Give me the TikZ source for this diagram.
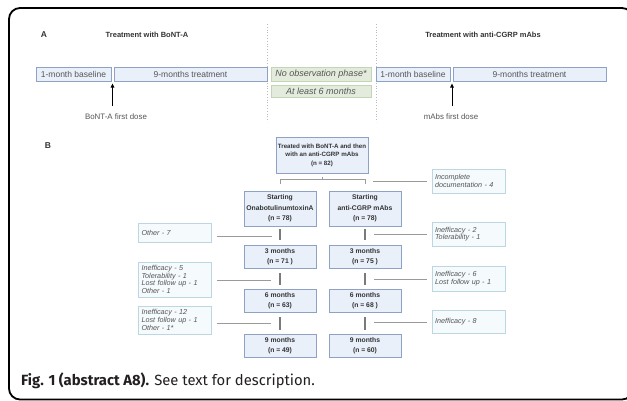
\documentclass[tikz,border=0pt]{standalone}
\usepackage{fontspec}
\setmainfont{Liberation Sans}
\newfontfamily\capfont{Fira Sans}
\usetikzlibrary{arrows.meta}
\definecolor{boxfill}{HTML}{E9F0FA}
\definecolor{boxdraw}{HTML}{8EA3C4}
\definecolor{sidefill}{HTML}{F5FAFD}
\definecolor{sidedraw}{HTML}{BCD6E2}
\definecolor{grfill}{HTML}{E3ECDC}
\definecolor{grdraw}{HTML}{C3D5B5}
\definecolor{txt}{HTML}{333333}
\definecolor{ltxt}{HTML}{555555}
\definecolor{conn}{HTML}{9A9A9A}
\definecolor{vconn}{HTML}{7A7A7A}
\definecolor{dotc}{HTML}{BBBBBB}
\definecolor{captxt}{HTML}{231F20}
\begin{document}
\begin{tikzpicture}[x=1pt,y=-1pt,
  abox/.style={draw=boxdraw, fill=boxfill, line width=0.8pt, inner sep=0pt, text=ltxt, font=\fontsize{8.5}{10}\selectfont},
  gbox/.style={draw=grdraw, fill=grfill, line width=0.8pt, inner sep=0pt, text=ltxt, font=\fontsize{9}{10}\selectfont\itshape},
  mbox/.style={draw=boxdraw, fill=boxfill, line width=0.9pt, inner sep=0pt, text=txt, align=center, font=\bfseries\fontsize{6.8}{10.5}\selectfont, minimum width=72, minimum height=23},
  sbox/.style={draw=sidedraw, fill=sidefill, line width=0.8pt, inner sep=0pt, inner xsep=3pt, text=ltxt, align=left, text width=67, font=\fontsize{7.2}{6.6}\selectfont\itshape},
  ttl/.style={text=txt, font=\bfseries\fontsize{7.5}{9}\selectfont},
  lab/.style={text=ltxt, font=\fontsize{7.9}{9}\selectfont},
  conline/.style={draw=conn, line width=0.8pt},
  vline/.style={draw=vconn, line width=1.8pt},
  dotline/.style={draw=dotc, line width=0.8pt, dotted},
  arr/.style={draw=black, line width=0.9pt, -{Triangle[length=4pt,width=3.6pt]}}
]
\useasboundingbox (0,0) rectangle (627,400);
% frame
\draw[line width=1.8pt, rounded corners=11pt] (9,8) rectangle (633,399.5);

% ---------- Section A ----------
\node[font=\bfseries\fontsize{8.5}{10}\selectfont, text=txt] (lA) at (44,35) {A};
\node[ttl] (t1) at (147,35) {Treatment with BoNT-A};
\node[ttl] (t2) at (483,35) {Treatment with anti-CGRP mAbs};
\coordinate (d1a) at (267.5,24); \coordinate (d1b) at (267.5,122);
\coordinate (d2a) at (376,24); \coordinate (d2b) at (376,122);
\draw[dotline] (d1a) -- (d1b);
\draw[dotline] (d2a) -- (d2b);

\node[abox, minimum width=75, minimum height=14] (bl1) at (73.5,74) {1-month baseline};
\node[abox, minimum width=153, minimum height=14] (tr1) at (190.5,74) {9-months treatment};
\node[gbox, minimum width=100, minimum height=14] (nop) at (321,74) {No observation phase*};
\node[gbox, minimum width=100, minimum height=12] (al6) at (321,91) {At least 6 months};
\node[abox, minimum width=74, minimum height=14] (bl2) at (413,74) {1-month baseline};
\node[abox, minimum width=153, minimum height=14] (tr2) at (529.5,74) {9-months treatment};

\node[lab] (fd1) at (116,117) {BoNT-A first dose};
\coordinate (a1t) at (112.5,83.5); \coordinate (a1b) at (112.5,106);
\draw[arr] (a1b) -- (a1t);
\node[lab] (fd2) at (451,117) {mAbs first dose};
\coordinate (a2t) at (452,83.5); \coordinate (a2b) at (452,106);
\draw[arr] (a2b) -- (a2t);

% ---------- Section B ----------
\node[font=\bfseries\fontsize{8.5}{10}\selectfont, text=txt] (lB) at (48,146) {B};

\node[mbox, minimum width=92, minimum height=36, font=\bfseries\fontsize{6.2}{8.5}\selectfont] (top) at (322,155) {Treated with BoNT-A and then\\with an anti-CGRP mAbs\\(n = 82)};

\coordinate (brL) at (280,184); \coordinate (brLt) at (280,179);
\coordinate (brRt) at (365,179); \coordinate (brR) at (365,184);
\coordinate (brC) at (322,179); \coordinate (brCt) at (322,176.5);
\draw[conline] (brL) -- (brLt) -- (brRt) -- (brR);
\draw[conline] (brCt) -- (brC);

\node[mbox, minimum height=35] (sL) at (280,208.5) {Starting\\OnabotulinumtoxinA\\(n = 78)};
\node[mbox, minimum height=35] (sR) at (365,208.5) {Starting\\anti-CGRP mAbs\\(n = 78)};

\node[mbox, font=\bfseries\fontsize{6.8}{10}\selectfont] (m3L) at (280,257) {3 months\\(n = 71 )};
\node[mbox, font=\bfseries\fontsize{6.8}{10}\selectfont] (m6L) at (280,301) {6 months\\(n = 63)};
\node[mbox, font=\bfseries\fontsize{6.8}{10}\selectfont] (m9L) at (280,345.5) {9 months\\(n = 49)};
\node[mbox, font=\bfseries\fontsize{6.8}{10}\selectfont] (m3R) at (365,257) {3 months\\(n = 75 )};
\node[mbox, font=\bfseries\fontsize{6.8}{10}\selectfont] (m6R) at (365,301) {6 months\\(n = 68 )};
\node[mbox, font=\bfseries\fontsize{6.8}{10}\selectfont] (m9R) at (365,345.5) {9 months\\(n = 60)};

\draw[vline, shorten <=3pt, shorten >=5pt] (sL) -- (m3L);
\draw[vline, shorten <=4.5pt, shorten >=4.5pt] (m3L) -- (m6L);
\draw[vline, shorten <=4.5pt, shorten >=4pt] (m6L) -- (m9L);
\draw[vline, shorten <=3pt, shorten >=5pt] (sR) -- (m3R);
\draw[vline, shorten <=4.5pt, shorten >=4.5pt] (m3R) -- (m6R);
\draw[vline, shorten <=4.5pt, shorten >=4pt] (m6R) -- (m9R);

% side boxes left
\node[sbox, minimum height=19] (L1) at (175,232.5) {Other - 7};
\node[sbox, minimum height=35] (L2) at (175,279.5) {Inefficacy - 5\\Tolerability - 1\\Lost follow up - 1\\Other - 1};
\node[sbox, minimum height=28] (L3) at (175,320) {Inefficacy - 12\\Lost follow up - 1\\Other - 1*};
% side boxes right
\node[sbox, minimum height=24] (R0) at (468.5,181) {Incomplete\\documentation - 4};
\node[sbox, minimum height=24] (R1) at (468.5,234) {Inefficacy - 2\\Tolerability - 1};
\node[sbox, minimum height=25] (R2) at (468.5,278.5) {Inefficacy - 6\\Lost follow up - 1};
\node[sbox, minimum height=23] (R3) at (468.5,321.5) {Inefficacy - 8};

\coordinate (l1a) at (217,236); \coordinate (l1b) at (272,236);
\coordinate (l2a) at (217,280); \coordinate (l2b) at (271,280);
\coordinate (l3a) at (217,323); \coordinate (l3b) at (271,323);
\draw[conline] (l1a) -- (l1b);
\draw[conline] (l2a) -- (l2b);
\draw[conline] (l3a) -- (l3b);
\coordinate (r0a) at (373,181); \coordinate (r1a) at (374,234);
\coordinate (r2a) at (374,279); \coordinate (r3a) at (374,322);
\draw[conline, shorten >=5pt] (r0a) -- (R0.west);
\draw[conline, shorten >=4.5pt] (r1a) -- (R1.west);
\draw[conline, shorten >=4.5pt] (r2a) -- (R2.west |- r2a);
\draw[conline, shorten >=4.5pt] (r3a) -- (R3.west |- r3a);

% caption
\node[anchor=base west, inner sep=0pt, text=captxt, font=\capfont\fontsize{14.8}{18}\selectfont] (cap) at (21,385) {\textbf{Fig. 1 (abstract A8).} See text for description.};
\end{tikzpicture}
\end{document}
